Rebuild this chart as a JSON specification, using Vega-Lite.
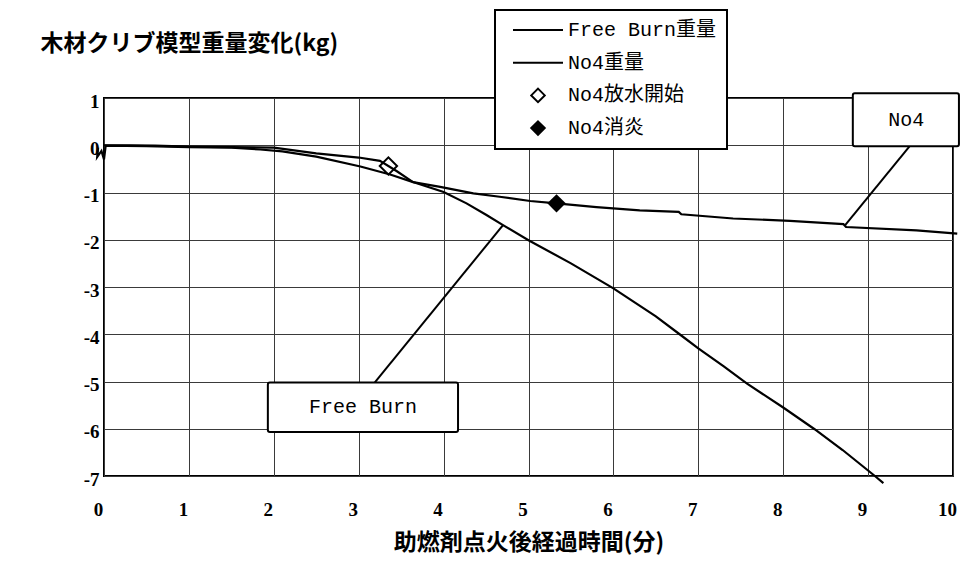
{
  "$schema": "https://vega.github.io/schema/vega-lite/v6.json",
  "width": 849,
  "height": 378,
  "autosize": "none",
  "padding": {"left": 104, "top": 98, "right": 7, "bottom": 86},
  "background": "white",
  "config": {
    "view": {"stroke": "black", "strokeWidth": 2},
    "axis": {
      "grid": true, "gridColor": "#3a3a3a", "gridWidth": 1, "domain": false, "ticks": false,
      "labelFont": "Liberation Serif", "labelFontWeight": "bold", "labelFontSize": 19, "labelColor": "black",
      "titleFont": "Noto Sans CJK JP", "titleFontWeight": "bold", "titleFontSize": 23, "titleColor": "black"
    },
    "legend": {
      "orient": "none", "legendX": 391, "legendY": -88, "title": null,
      "strokeColor": "black", "strokeWidth": 2, "fillColor": "white", "padding": 10,
      "labelFont": "Liberation Mono, Noto Sans CJK JP", "labelFontSize": 20, "labelColor": "black",
      "symbolSize": 2500, "symbolOffset": 7, "labelOffset": 4, "clipHeight": 20, "rowPadding": 12.7,
      "symbolStrokeColor": "black", "symbolStrokeWidth": 2
    }
  },
  "datasets": {
    "curves": [
      {"series": "Free Burn", "t": 0.0, "w": 0.0},
      {"series": "Free Burn", "t": 0.3, "w": 0.0},
      {"series": "Free Burn", "t": 0.6, "w": -0.01},
      {"series": "Free Burn", "t": 1.0, "w": -0.03},
      {"series": "Free Burn", "t": 1.5, "w": -0.04},
      {"series": "Free Burn", "t": 2.0, "w": -0.05},
      {"series": "Free Burn", "t": 2.5, "w": -0.17},
      {"series": "Free Burn", "t": 3.0, "w": -0.26},
      {"series": "Free Burn", "t": 3.25, "w": -0.33},
      {"series": "Free Burn", "t": 3.45, "w": -0.55},
      {"series": "Free Burn", "t": 3.64, "w": -0.78},
      {"series": "Free Burn", "t": 4.0, "w": -0.99},
      {"series": "Free Burn", "t": 4.27, "w": -1.23},
      {"series": "Free Burn", "t": 4.5, "w": -1.47},
      {"series": "Free Burn", "t": 4.7, "w": -1.69},
      {"series": "Free Burn", "t": 5.0, "w": -2.01},
      {"series": "Free Burn", "t": 5.5, "w": -2.5},
      {"series": "Free Burn", "t": 6.0, "w": -3.03},
      {"series": "Free Burn", "t": 6.5, "w": -3.62},
      {"series": "Free Burn", "t": 6.78, "w": -4.0},
      {"series": "Free Burn", "t": 7.0, "w": -4.3},
      {"series": "Free Burn", "t": 7.3, "w": -4.68},
      {"series": "Free Burn", "t": 7.57, "w": -5.04},
      {"series": "Free Burn", "t": 8.0, "w": -5.55},
      {"series": "Free Burn", "t": 8.37, "w": -6.01},
      {"series": "Free Burn", "t": 8.7, "w": -6.45},
      {"series": "Free Burn", "t": 9.08, "w": -7.0},
      {"series": "Free Burn", "t": 9.18, "w": -7.15},
      {"series": "No4", "t": -0.07, "w": -0.05},
      {"series": "No4", "t": -0.08, "w": -0.25},
      {"series": "No4", "t": -0.03, "w": -0.12},
      {"series": "No4", "t": 0.0, "w": -0.3},
      {"series": "No4", "t": 0.02, "w": -0.01},
      {"series": "No4", "t": 0.5, "w": -0.02},
      {"series": "No4", "t": 1.0, "w": -0.04},
      {"series": "No4", "t": 1.5, "w": -0.05},
      {"series": "No4", "t": 1.84, "w": -0.09},
      {"series": "No4", "t": 2.1, "w": -0.13},
      {"series": "No4", "t": 2.5, "w": -0.24},
      {"series": "No4", "t": 3.02, "w": -0.45},
      {"series": "No4", "t": 3.37, "w": -0.62},
      {"series": "No4", "t": 3.64, "w": -0.78},
      {"series": "No4", "t": 3.96, "w": -0.88},
      {"series": "No4", "t": 4.35, "w": -1.02},
      {"series": "No4", "t": 4.66, "w": -1.09},
      {"series": "No4", "t": 5.02, "w": -1.18},
      {"series": "No4", "t": 5.33, "w": -1.23},
      {"series": "No4", "t": 5.8, "w": -1.31},
      {"series": "No4", "t": 6.31, "w": -1.38},
      {"series": "No4", "t": 6.77, "w": -1.41},
      {"series": "No4", "t": 6.8, "w": -1.46},
      {"series": "No4", "t": 7.41, "w": -1.55},
      {"series": "No4", "t": 8.08, "w": -1.6},
      {"series": "No4", "t": 8.71, "w": -1.67},
      {"series": "No4", "t": 8.74, "w": -1.73},
      {"series": "No4", "t": 9.57, "w": -1.8},
      {"series": "No4", "t": 10.05, "w": -1.87}
    ],
    "events": [
      {"series": "No4放水開始", "t": 3.35, "w": -0.44},
      {"series": "No4消炎", "t": 5.33, "w": -1.23}
    ],
    "boxes": [
      {"label": "No4", "x1": 8.82, "x2": 10.07, "y1": 1.1, "y2": -0.02, "tx": 9.45, "ty": 0.53, "lx1": 9.49, "ly1": -0.02, "lx2": 8.73, "ly2": -1.69},
      {"label": "Free Burn", "x1": 1.93, "x2": 4.17, "y1": -5.02, "y2": -6.07, "tx": 3.05, "ty": -5.54, "lx1": 3.19, "ly1": -5.02, "lx2": 4.7, "ly2": -1.69}
    ],
    "legendrows": [
      {"series": "Free Burn重量", "t": null, "w": null}
    ]
  },
  "layer": [
    {
      "data": {"name": "curves"},
      "mark": {"type": "line", "color": "black", "strokeWidth": 2.2},
      "encoding": {
        "x": {
          "field": "t", "type": "quantitative",
          "scale": {"domain": [0, 10], "nice": false, "zero": false},
          "axis": {
            "values": [0, 1, 2, 3, 4, 5, 6, 7, 8, 9, 10],
            "format": "d",
            "title": "助燃剤点火後経過時間(分)",
            "labelBaseline": "middle", "labelPadding": 33, "labelOffset": -6,
            "labelFlush": false, "labelOverlap": false,
            "titleY": 66, "titleBaseline": "middle"
          }
        },
        "y": {
          "field": "w", "type": "quantitative",
          "scale": {"domain": [-7, 1], "nice": false, "zero": false},
          "axis": {
            "values": [-7, -6, -5, -4, -3, -2, -1, 0, 1],
            "title": "木材クリブ模型重量変化(kg)",
            "labelExpr": "datum.value < 0 ? '-' + abs(datum.value) : '' + datum.value",
            "labelPadding": 5, "labelOffset": 3, "labelFlush": false, "labelOverlap": false,
            "titleAngle": 0, "titleAlign": "left", "titleBaseline": "middle", "titleX": -64, "titleY": -55
          }
        },
        "detail": {"field": "series"},
        "order": {"value": null}
      }
    },
    {
      "data": {"name": "boxes"},
      "mark": {"type": "rule", "color": "black", "strokeWidth": 2},
      "encoding": {
        "x": {"field": "lx1", "type": "quantitative"},
        "y": {"field": "ly1", "type": "quantitative"},
        "x2": {"field": "lx2"},
        "y2": {"field": "ly2"}
      }
    },
    {
      "data": {"name": "boxes"},
      "mark": {"type": "rect", "fill": "white", "stroke": "black", "strokeWidth": 2, "cornerRadius": 2},
      "encoding": {
        "x": {"field": "x1", "type": "quantitative"},
        "x2": {"field": "x2"},
        "y": {"field": "y1", "type": "quantitative"},
        "y2": {"field": "y2"}
      }
    },
    {
      "data": {"name": "boxes"},
      "mark": {"type": "text", "font": "Liberation Mono", "fontSize": 20, "color": "black", "align": "center", "baseline": "middle"},
      "encoding": {
        "x": {"field": "tx", "type": "quantitative"},
        "y": {"field": "ty", "type": "quantitative"},
        "text": {"field": "label"}
      }
    },
    {
      "data": {"name": "events"},
      "transform": [{"filter": "datum.series == 'No4放水開始'"}],
      "mark": {"type": "point", "shape": "diamond", "filled": false, "stroke": "black", "strokeWidth": 2, "size": 300, "opacity": 1},
      "encoding": {
        "x": {"field": "t", "type": "quantitative"},
        "y": {"field": "w", "type": "quantitative"}
      }
    },
    {
      "data": {"name": "events"},
      "transform": [{"filter": "datum.series == 'No4消炎'"}],
      "mark": {"type": "point", "shape": "diamond", "filled": true, "color": "black", "size": 340, "opacity": 1},
      "encoding": {
        "x": {"field": "t", "type": "quantitative"},
        "y": {"field": "w", "type": "quantitative"}
      }
    },
    {
      "data": {"name": "legendrows"},
      "mark": {"type": "point", "filled": true, "strokeWidth": 2, "opacity": 1},
      "encoding": {
        "x": {"field": "t", "type": "quantitative"},
        "y": {"field": "w", "type": "quantitative"},
        "shape": {
          "field": "series", "type": "nominal",
          "scale": {
            "domain": ["Free Burn重量", "No4重量", "No4放水開始", "No4消炎"],
            "range": ["M-1,0H1", "M-1,0H1", "M0,-0.27L0.27,0L0,0.27L-0.27,0Z", "M0,-0.27L0.27,0L0,0.27L-0.27,0Z"]
          }
        },
        "fill": {
          "field": "series", "type": "nominal",
          "scale": {
            "domain": ["Free Burn重量", "No4重量", "No4放水開始", "No4消炎"],
            "range": ["transparent", "transparent", "white", "black"]
          }
        },
        "stroke": {
          "field": "series", "type": "nominal",
          "scale": {
            "domain": ["Free Burn重量", "No4重量", "No4放水開始", "No4消炎"],
            "range": ["black", "black", "black", "black"]
          }
        }
      }
    }
  ]
}
